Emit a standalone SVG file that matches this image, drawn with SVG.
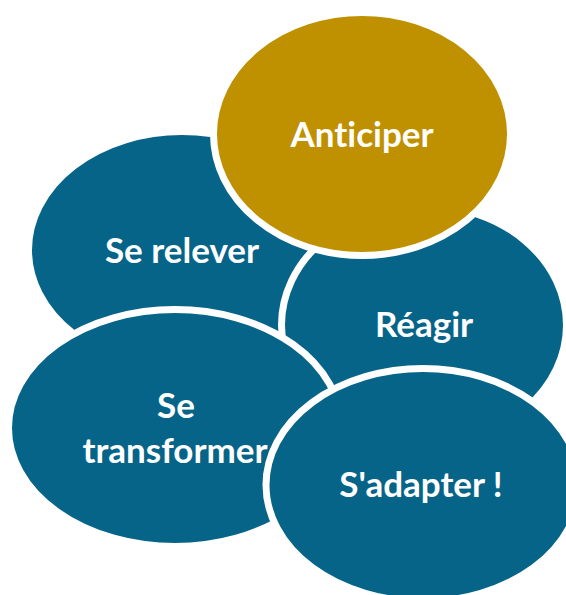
<svg xmlns="http://www.w3.org/2000/svg" width="566" height="595" viewBox="0 0 566 595">
  <style>
    .blob { stroke: #FFFFFF; stroke-width: 7; }
    .blue { fill: #066489; }
    .gold { fill: #BF9000; }
    .lbl { fill: #FFFFFF; font-family: Lato, "Open Sans", "Liberation Sans", sans-serif; font-weight: bold; font-size: 35px; text-anchor: middle; font-variant-ligatures: none; font-feature-settings: "liga" 0, "clig" 0; }
  </style>
  <rect width="566" height="595" fill="#FFFFFF"/>
  <g id="connectors"></g>
  <g id="se-relever">
    <ellipse class="blob blue" cx="182" cy="250" rx="153.5" ry="118.5"/>
    <text class="lbl" x="182" y="263">Se relever</text>
  </g>
  <g id="reagir">
    <ellipse class="blob blue" cx="424" cy="325" rx="142.5" ry="119.5"/>
    <text class="lbl" x="424" y="337">Réagir</text>
  </g>
  <g id="anticiper">
    <ellipse class="blob gold" cx="362" cy="134" rx="148.5" ry="121.5"/>
    <text class="lbl" x="362" y="147">Anticiper</text>
  </g>
  <g id="se-transformer">
    <ellipse class="blob blue" cx="175" cy="428" rx="166.5" ry="118.5"/>
    <text class="lbl" x="176" y="418">Se</text>
    <text class="lbl" x="175" y="463">transformer</text>
  </g>
  <g id="s-adapter">
    <ellipse class="blob blue" cx="423" cy="485" rx="157" ry="116.5"/>
    <text class="lbl" x="421" y="497">S'adapter !</text>
  </g>
</svg>
